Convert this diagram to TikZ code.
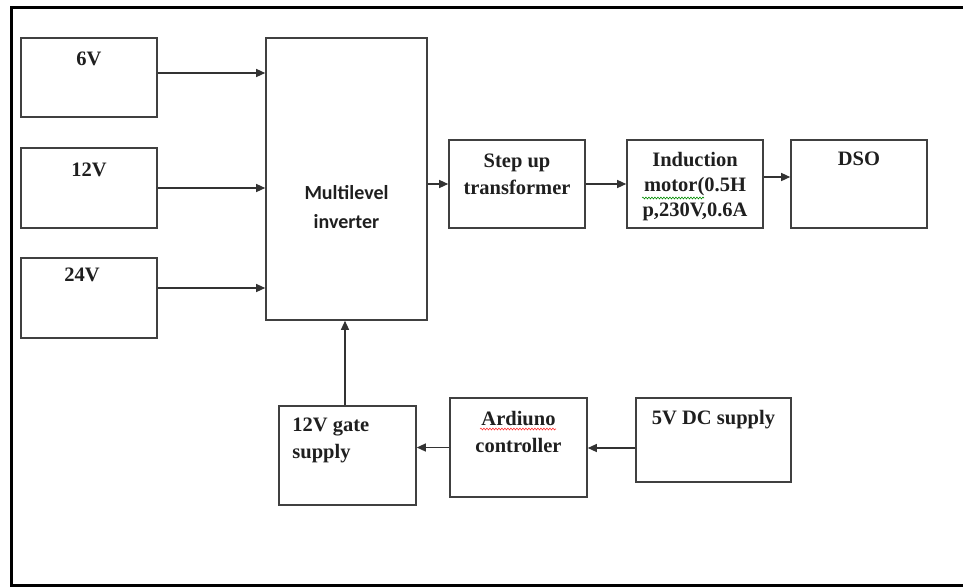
\documentclass[tikz,border=0pt]{standalone}
\usepackage{fontspec}
\setmainfont{Liberation Serif}
\newfontfamily\calfont{Carlito}
\usetikzlibrary{positioning,arrows.meta,decorations.pathmorphing}

\begin{document}
\begin{tikzpicture}[x=1pt,y=-1pt,
        blk/.style 2 args={draw=black!75,line width=1.6pt,rectangle,inner sep=0pt,minimum width=#1,minimum height=#2},
        lbl/.style={font=\fontsize{20.5}{27}\selectfont\bfseries,text=black!88,inner sep=0pt,align=center},
        arr/.style={draw=black!80,line width=1.3pt,-{Triangle[length=9pt,width=8pt]}},
        squig/.style={line width=0.6pt,decorate,decoration={snake,amplitude=0.9pt,segment length=3pt}}]
        \useasboundingbox (0,0) rectangle (963,587);
        \draw[line width=3pt] (968,7.5) -- (11,7.5) -- (11,585) -- (968,585);
        \node[blk={136}{79}] (six) at (89,77.5) {};
        \node[blk={136}{80}] (twelve) at (89,188) {};
        \node[blk={136}{80}] (tfour) at (89,298) {};
        \node[blk={161}{282}] (mli) at (346.5,179) {};
        \node[blk={136}{88}] (step) at (517,184) {};
        \node[blk={136}{88}] (motor) at (695,184) {};
        \node[blk={136}{88}] (dso) at (859,184) {};
        \node[blk={137}{99}] (gate) at (347.5,455.5) {};
        \node[blk={137}{99}] (ardu) at (518.5,447.5) {};
        \node[blk={155}{84}] (five) at (713.5,440) {};
        \node[lbl,below=15pt of six.north] (sixT) {6V};
        \node[lbl,below=16pt of twelve.north] (twelveT) {12V};
        \node[lbl,below=11pt of tfour.north,xshift=-7pt] (tfourT) {24V};
        \node[lbl,font=\fontsize{20}{29}\selectfont\calfont\bfseries] (mliT) at ([yshift=-28pt]mli.center) {Multilevel\\inverter};
        \node[lbl,below=15pt of step.north] (stepT) {Step up\\transformer};
        \node[lbl,font=\fontsize{20.5}{25}\selectfont\bfseries,below=13pt of motor.north] (motorT) {Induction\\motor(0.5H\\p,230V,0.6A};
        \node[lbl,below=13pt of dso.north] (dsoT) {DSO};
        \node[lbl,align=left,anchor=north west] (gateT) at ([xshift=14pt,yshift=-13pt]gate.north west) {12V gate\\supply};
        \node[lbl,below=14pt of ardu.north] (arduT) {Ardiuno\\controller};
        \node[lbl,below=13pt of five.north] (fiveT) {5V DC supply};
        \draw[arr] ([yshift=4.5pt]six.east) -- ([yshift=4.5pt]six.east -| mli.west);
        \draw[arr] (twelve.east) -- (twelve.east -| mli.west);
        \draw[arr] ([yshift=10pt]tfour.east) -- ([yshift=10pt]tfour.east -| mli.west);
        \draw[arr] (step.west -| mli.east) -- (step.west);
        \draw[arr] (step.east) -- (motor.west);
        \draw[arr] ([yshift=7pt]motor.east) -- ([yshift=7pt]dso.west);
        \draw[arr] ([xshift=-2.5pt]gate.north) -- ([xshift=-2.5pt]gate.north |- mli.south);
        \draw[arr] (ardu.west) -- (ardu.west -| gate.east);
        \draw[arr] ([yshift=-8pt]five.west) -- ([yshift=-8pt]five.west -| ardu.east);
        \draw[squig,red!80] (480,429) -- (556,429);
        \draw[squig,green!55!black] (642,198) -- (704,198);
\end{tikzpicture}
\end{document}
